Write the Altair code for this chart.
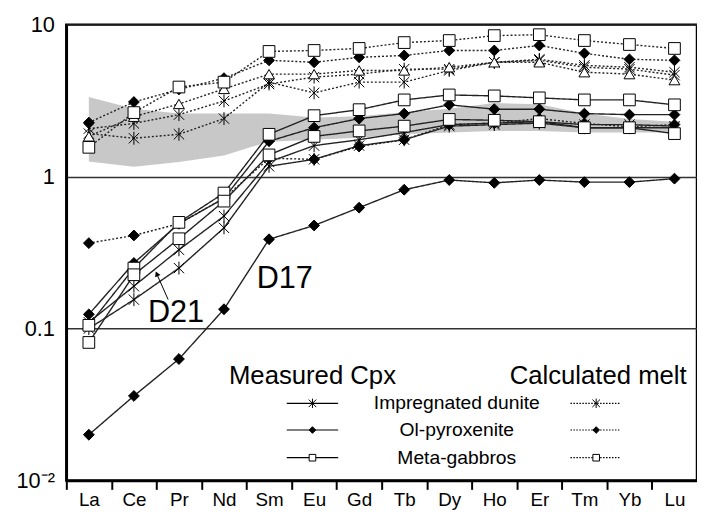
import altair as alt
import pandas as pd

elements = ["La", "Ce", "Pr", "Nd", "Sm", "Eu", "Gd", "Tb", "Dy", "Ho", "Er", "Tm", "Yb", "Lu"]

# gray field
band_hi = [3.35, 2.8, 2.6, 2.6, 2.6, 2.45, 2.5, 2.65, 2.8, 3.05, 3.0, 2.6, 2.4, 2.3]
band_lo = [1.26, 1.16, 1.25, 1.38, 1.7, 1.75, 1.8, 1.9, 1.95, 2.0, 2.0, 1.95, 1.95, 1.95]

# calculated melts (dotted)
melt_sq = [1.56, 2.64, 3.89, 4.19, 6.67, 6.77, 6.98, 7.63, 7.87, 8.48, 8.6, 7.87, 7.41, 6.98]
melt_di = [2.27, 3.1, 3.75, 4.45, 5.83, 5.66, 6.1, 6.28, 6.77, 6.77, 7.3, 6.48, 5.92, 5.83]
melt_tri = [1.84, 2.48, 3.01, 3.78, 4.73, 4.73, 5.0, 5.0, 5.25, 5.66, 5.66, 4.87, 4.73, 4.32]
melt_as1 = [2.07, 2.24, 2.56, 3.15, 4.07, 4.52, 4.73, 5.1, 5.1, 5.66, 5.92, 5.4, 5.25, 4.87]
melt_as2 = [1.92, 1.79, 1.9, 2.41, 4.19, 3.56, 4.19, 4.19, 5.0, 5.66, 5.83, 5.25, 5.1, 4.66]
melt_di_low = [0.365, 0.41, 0.49, 0.72, 1.32, 1.3, 1.58, 1.75, 2.2, 2.25, 2.41, 2.24, 2.13, 2.2]

# measured cpx (solid)
cpx_mg1 = [0.105, 0.25, 0.5, 0.78, 1.9, 2.52, 2.76, 3.2, 3.45, 3.4, 3.3, 3.2, 3.2, 2.97]
cpx_mg2 = [0.081, 0.226, 0.39, 0.69, 1.39, 1.84, 2.0, 2.15, 2.38, 2.35, 2.3, 2.1, 2.1, 1.92]
cpx_px1 = [0.124, 0.27, 0.49, 0.72, 1.71, 2.1, 2.41, 2.6, 2.97, 2.78, 2.78, 2.6, 2.56, 2.56]
cpx_d17 = [0.02, 0.036, 0.063, 0.134, 0.387, 0.477, 0.625, 0.82, 0.95, 0.91, 0.95, 0.92, 0.92, 0.97]
cpx_d21 = [0.11, 0.19, 0.33, 0.55, 1.25, 1.6, 1.75, 1.95, 2.2, 2.25, 2.3, 2.2, 2.2, 2.15]
cpx_id2 = [0.1, 0.155, 0.25, 0.46, 1.17, 1.3, 1.6, 1.75, 2.15, 2.2, 2.25, 2.1, 2.1, 2.1]

series = [
    ("melt_sq", "dotted", "square", melt_sq),
    ("melt_di", "dotted", "diamond", melt_di),
    ("melt_tri", "dotted", "triangle", melt_tri),
    ("melt_as1", "dotted", "asterisk", melt_as1),
    ("melt_as2", "dotted", "asterisk", melt_as2),
    ("melt_di_low", "dotted", "diamond", melt_di_low),
    ("cpx_mg1", "solid", "square", cpx_mg1),
    ("cpx_mg2", "solid", "square", cpx_mg2),
    ("cpx_px1", "solid", "diamond", cpx_px1),
    ("cpx_d17", "solid", "diamond", cpx_d17),
    ("cpx_d21", "solid", "asterisk", cpx_d21),
    ("cpx_id2", "solid", "asterisk", cpx_id2),
]

rows = []
for name, kind, marker, vals in series:
    for el, v in zip(elements, vals):
        rows.append({"series": name, "kind": kind, "marker": marker, "element": el, "value": v})
df = pd.DataFrame(rows)
band_df = pd.DataFrame({"element": elements, "hi": band_hi, "lo": band_lo})

FONT = "Arial, Liberation Sans, sans-serif"
W, H = 638, 461
STEP = W / len(elements)
ASTER = "M0,-1L0,1M-0.8,-0.8L0.8,0.8M-0.8,0.8L0.8,-0.8"

xenc = alt.X("element:N", sort=elements,
             scale=alt.Scale(type="point", padding=0.5, domain=elements),
             axis=alt.Axis(title=None, labelFontSize=19, labelFont=FONT, labelColor="black",
                           tickSize=9, tickWidth=2, tickColor="black",
                           tickOffset=-STEP / 2, labelOffset=STEP / 2, labelPadding=1,
                           domainColor="black", domainWidth=2.5, labelAngle=0, grid=False))
yscale = alt.Scale(type="log", domain=[0.01, 10])
yaxis = alt.Axis(title=None, values=[0.01, 0.1, 1, 10],
                 labelExpr="datum.value < 0.05 ? '10\u207b\u00b2' : (datum.value < 0.5 ? '0.1' : (datum.value < 5 ? '1' : '10'))",
                 labelFontSize=22, labelFont=FONT, labelColor="black", labelPadding=12,
                 ticks=False, grid=True, gridColor="#333", gridWidth=1.5,
                 domainColor="black", domainWidth=2.5)

band = alt.Chart(band_df).mark_area(color="#c8c8c8", opacity=1).encode(
    x=xenc, y=alt.Y("hi:Q", scale=yscale, axis=yaxis), y2="lo:Q")

base = alt.Chart(df)
lines = base.mark_line(color="#222", strokeWidth=1.4).encode(
    x=xenc, y=alt.Y("value:Q", scale=yscale, axis=yaxis), detail="series:N",
    strokeDash=alt.StrokeDash("kind:N", scale=alt.Scale(domain=["solid", "dotted"], range=[[1, 0], [2, 2]]), legend=None))

def pts(marker, shape, size, fill, filled, sw=1):
    return base.transform_filter(alt.datum.marker == marker).mark_point(
        shape=shape, size=size, filled=filled, fill=fill, stroke="black", strokeWidth=sw, opacity=1
    ).encode(x=xenc, y=alt.Y("value:Q", scale=yscale, axis=yaxis))

p_as = base.transform_filter(alt.datum.marker == "asterisk").mark_point(
    shape=ASTER, size=170, filled=False, stroke="black", strokeWidth=1, opacity=1
).encode(x=xenc, y=alt.Y("value:Q", scale=yscale, axis=yaxis))
p_di = pts("diamond", "diamond", 120, "black", True)
p_sq = pts("square", "square", 140, "white", True)
p_tri = pts("triangle", "triangle-up", 120, "white", True)

one = pd.DataFrame({"a": [0]})

def txt(s, x, y, size, align="center"):
    return alt.Chart(one).mark_text(text=s, font=FONT, fontSize=size, color="black", align=align,
                                    baseline="middle").encode(x=alt.value(x), y=alt.value(y))

def hrule(x1, x2, y, dash):
    return alt.Chart(one).mark_rule(color="black", strokeWidth=1.2, strokeDash=dash).encode(
        x=alt.value(x1), x2=alt.value(x2), y=alt.value(y))

def sym(x, y, shape, size, fill, filled):
    return alt.Chart(one).mark_point(shape=shape, size=size, fill=fill, filled=filled, stroke="black",
                                     strokeWidth=1, opacity=1).encode(x=alt.value(x), y=alt.value(y))

legend_labels = ["Impregnated dunite", "Ol-pyroxenite", "Meta-gabbros"]
legend_shapes = [(ASTER, 90, "none", False), ("diamond", 45, "black", True), ("square", 45, "white", True)]
row_y = [383, 410, 438]

legend_layers = [txt("Measured Cpx", 249, 355, 26), txt("Calculated melt", 538, 355, 26)]
for lab, (shp, sz, fl, fd), yy in zip(legend_labels, legend_shapes, row_y):
    legend_layers += [
        hrule(223, 275, yy, [1, 0]), sym(249, yy, shp, sz, fl, fd),
        txt(lab, 395, yy, 19.5),
        hrule(510, 561, yy, [1.5, 1.5]), sym(536, yy, shp, sz, fl, fd),
    ]

annot = [
    txt("D17", 221, 257, 31),
    txt("D21", 111, 292, 31),
    alt.Chart(one).mark_rule(color="black", strokeWidth=1).encode(
        x=alt.value(103), y=alt.value(278), x2=alt.value(91), y2=alt.value(251)),
    alt.Chart(one).mark_point(shape="triangle-up", size=35, filled=True, fill="black", opacity=1, angle=336).encode(
        x=alt.value(91.5), y=alt.value(252)),
]

chart = alt.layer(band, lines, p_as, p_di, p_tri, p_sq, *annot, *legend_layers).properties(
    width=W, height=H,
    autosize=alt.AutoSizeParams(type="none"),
    padding={"left": 59, "top": 14, "right": 0, "bottom": 30},
    background="white",
).configure_view(stroke="black", strokeWidth=2.5)

chart.save("out.html", embed_options={"renderer": "svg", "actions": False})
